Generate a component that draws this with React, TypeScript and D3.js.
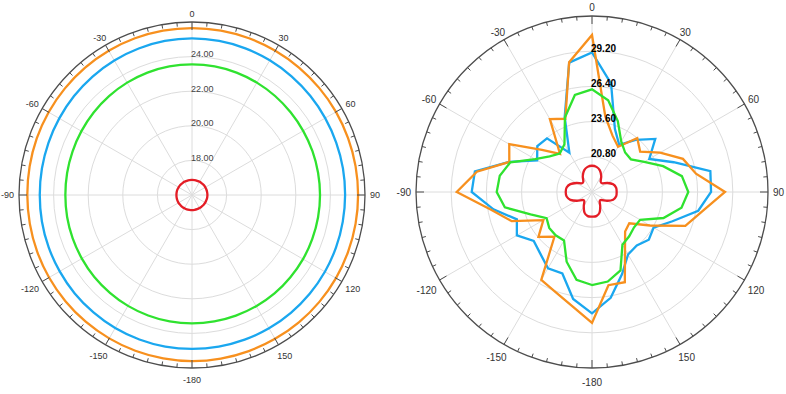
import React from "react";
import * as d3 from "d3";

// angles (deg, clockwise from top) at which every series is sampled
const sampleAngles = [
  -180, -170, -160, -150, -140, -130, -120, -110, -100, -90, -80, -70,
  -60, -50, -40, -30, -20, -10, 0, 10, 20, 30, 40, 50,
  60, 70, 80, 90, 100, 110, 120, 130, 140, 150, 160, 170,
];
const angleTicks = [0, 30, 60, 90, 120, 150, -180, -150, -120, -90, -60, -30];

// left chart
const leftDomain = [16, 26];
const leftRings = [18, 20, 22, 24];
const leftOrange = [
  25.6, 25.59, 25.58, 25.57, 25.56, 25.55, 25.54, 25.53, 25.52, 25.52, 25.53, 25.55,
  25.57, 25.59, 25.61, 25.63, 25.64, 25.65, 25.65, 25.65, 25.64, 25.63, 25.62, 25.61,
  25.61, 25.6, 25.6, 25.6, 25.6, 25.6, 25.61, 25.61, 25.61, 25.6, 25.6, 25.6,
];
const leftBlue = [
  24.9, 24.9, 24.89, 24.88, 24.86, 24.85, 24.83, 24.82, 24.81, 24.8, 24.81, 24.83,
  24.86, 24.9, 24.94, 24.98, 25.01, 25.04, 25.05, 25.04, 25.02, 24.99, 24.95, 24.92,
  24.89, 24.87, 24.86, 24.85, 24.85, 24.86, 24.87, 24.88, 24.89, 24.9, 24.9, 24.9,
];
const leftGreen = [
  23.42, 23.42, 23.41, 23.4, 23.38, 23.37, 23.35, 23.34, 23.33, 23.32, 23.33, 23.35,
  23.38, 23.42, 23.46, 23.5, 23.53, 23.55, 23.55, 23.55, 23.53, 23.5, 23.47, 23.44,
  23.42, 23.41, 23.4, 23.4, 23.4, 23.4, 23.41, 23.41, 23.42, 23.42, 23.42, 23.42,
];
const leftRed = [
  16.87, 16.87, 16.88, 16.88, 16.89, 16.89, 16.9, 16.9, 16.9, 16.9, 16.9, 16.9,
  16.89, 16.89, 16.88, 16.88, 16.87, 16.87, 16.87, 16.87, 16.87, 16.88, 16.88, 16.89,
  16.89, 16.89, 16.89, 16.89, 16.89, 16.88, 16.88, 16.88, 16.87, 16.87, 16.87, 16.87,
];

// right chart
const rightDomain = [18, 32];
const rightRings = [20.8, 23.6, 26.4, 29.2];
const rightOrange = [
  28.42, 27.2, 26.47, 26.07, 22.65, 23.56, 22.47, 24.79, 26.15, 28.76, 27.3, 25.0,
  25.6, 23.2, 21.96, 24.7, 24.2, 28.48, 30.49, 24.1, 22.77, 22.15, 23.6, 23.0,
  24.26, 25.7, 26.4, 28.58, 26.9, 25.9, 23.33, 21.87, 22.1, 23.25, 25.64, 25.53,
];
const rightBlue = [
  27.65, 26.64, 24.9, 25.0, 24.4, 24.05, 24.9, 24.36, 25.96, 27.57, 27.46, 25.02,
  23.04, 23.68, 23.57, 21.6, 24.35, 28.45, 29.1, 26.75, 23.33, 22.33, 23.41, 24.57,
  23.26, 24.92, 27.56, 27.47, 26.58, 24.81, 23.66, 23.9, 23.54, 23.74, 24.97, 26.55,
];
const rightGreen = [
  25.4, 25.1, 23.9, 22.45, 22.5, 22.44, 22.17, 23.2, 25.04, 25.58, 25.45, 24.91,
  23.23, 22.4, 21.99, 22.38, 24.3, 25.84, 26.17, 25.4, 24.0, 22.65, 22.1, 22.04,
  22.8, 24.02, 25.26, 25.66, 25.23, 24.05, 22.42, 22.37, 22.6, 22.84, 24.63, 25.23,
];
const rightRed = [
  19.96, 19.95, 19.75, 19.31, 18.95, 18.99, 19.39, 19.83, 20.05, 20.09, 20.05, 19.83,
  19.43, 19.07, 19.07, 19.47, 19.83, 20.03, 20.09, 20.03, 19.83, 19.47, 19.07, 19.07,
  19.43, 19.79, 19.95, 19.96, 19.95, 19.79, 19.39, 18.99, 18.95, 19.31, 19.75, 19.95,
];

const ORANGE = "#f7901e";
const BLUE = "#1aa7ef";
const GREEN = "#2fe22f";
const RED = "#e41d26";

const rad = (d: number) => (d * Math.PI) / 180;

interface Series {
  values: number[];
  color: string;
  smooth?: boolean;
}

interface PanelProps {
  cx: number;
  cy: number;
  radius: number;
  domain: number[];
  rings: number[];
  series: Series[];
  fontSize: number;
  ringBold: boolean;
  lowerShift: number;
}

function PolarPanel({ cx, cy, radius, domain, rings, series, fontSize, ringBold, lowerShift }: PanelProps) {
  const r = d3.scaleLinear().domain(domain).range([0, radius]);
  const spokes = d3.range(-180, 180, 30);
  const ticks = d3.range(-180, 180, 5);

  // put the label box just outside the axis circle
  const labelPos = (a: number, text: string) => {
    const s = Math.sin(rad(a));
    const c = Math.cos(rad(a));
    const w = fontSize * (text.replace("-", "").length * 0.556 + (text.startsWith("-") ? 0.333 : 0));
    const h = fontSize * 0.75;
    const gap = 5;
    const x = (radius + gap) * s + (w / 2) * s;
    let y = -(radius + gap) * c - (h / 2) * c;
    if (c < -0.1) y += lowerShift;
    return [x, y];
  };

  return (
    <g transform={`translate(${cx},${cy})`}>
      {rings.map((v) => (
        <circle key={v} r={r(v)} fill="none" stroke="#dcdcdc" strokeWidth={1} />
      ))}
      {spokes.map((a) => (
        <line
          key={a}
          x1={0}
          y1={0}
          x2={radius * Math.sin(rad(a))}
          y2={-radius * Math.cos(rad(a))}
          stroke="#dcdcdc"
          strokeWidth={1}
        />
      ))}
      {series.map((s, k) => {
        const line = d3
          .lineRadial<number>()
          .angle((_, i) => rad(sampleAngles[i]))
          .radius((d) => r(d))
          .curve(s.smooth ? d3.curveCardinalClosed : d3.curveLinearClosed);
        return (
          <path
            key={k}
            d={line(s.values) || ""}
            fill="none"
            stroke={s.color}
            strokeWidth={2.3}
            strokeLinejoin="miter"
          />
        );
      })}
      <circle r={radius} fill="none" stroke="#4d4d4d" strokeWidth={1.3} />
      {ticks.map((a) => {
        const len = a % 30 === 0 ? 8 : 4;
        const s = Math.sin(rad(a));
        const c = Math.cos(rad(a));
        return (
          <line
            key={a}
            x1={radius * s}
            y1={-radius * c}
            x2={(radius - len) * s}
            y2={-(radius - len) * c}
            stroke="#4d4d4d"
            strokeWidth={1}
          />
        );
      })}
      {angleTicks.map((a) => {
        const t = String(a);
        const [x, y] = labelPos(a, t);
        return (
          <text
            key={a}
            x={x}
            y={y}
            fontSize={fontSize}
            fill="#333"
            textAnchor="middle"
            dominantBaseline="central"
          >
            {t}
          </text>
        );
      })}
      {rings.map((v) => (
        <text
          key={v}
          x={-1}
          y={-r(v) + 0.5}
          fontSize={fontSize}
          fontWeight={ringBold ? "bold" : "normal"}
          fill={ringBold ? "#000" : "#444"}
        >
          {v.toFixed(2)}
        </text>
      ))}
    </g>
  );
}

export default function App() {
  return (
    <div style={{ position: "absolute", left: 0, top: 0, width: 786, height: 394, overflow: "hidden", background: "#fff" }}>
      <svg width={786} height={394} style={{ fontFamily: "'Liberation Sans', Arial, sans-serif", display: "block" }}>
        <rect width={786} height={394} fill="#fff" />
        <PolarPanel
          cx={192}
          cy={195}
          radius={173}
          domain={leftDomain}
          rings={leftRings}
          fontSize={9}
          ringBold={false}
          lowerShift={3.5}
          series={[
            { values: leftBlue, color: BLUE, smooth: true },
            { values: leftOrange, color: ORANGE, smooth: true },
            { values: leftGreen, color: GREEN, smooth: true },
            { values: leftRed, color: RED, smooth: true },
          ]}
        />
        <PolarPanel
          cx={592}
          cy={192}
          radius={176}
          domain={rightDomain}
          rings={rightRings}
          fontSize={10}
          ringBold={true}
          lowerShift={6}
          series={[
            { values: rightBlue, color: BLUE },
            { values: rightOrange, color: ORANGE },
            { values: rightGreen, color: GREEN },
            { values: rightRed, color: RED, smooth: true },
          ]}
        />
      </svg>
    </div>
  );
}
